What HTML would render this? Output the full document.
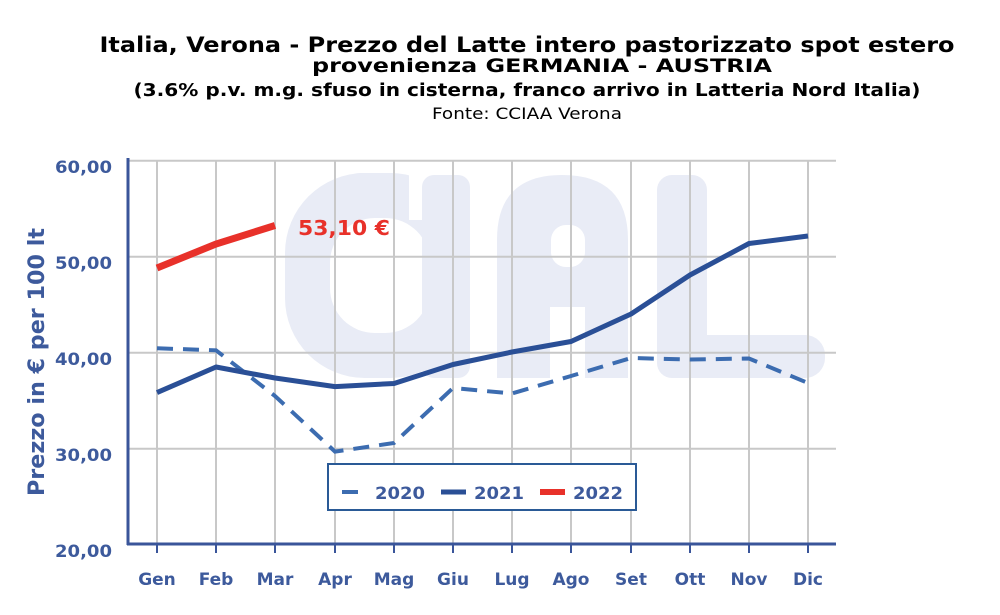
<!DOCTYPE html><html><head><meta charset="utf-8"><style>body{margin:0;background:#fff}</style></head><body>
<svg width="1000" height="610" xmlns="http://www.w3.org/2000/svg" font-family="DejaVu Sans, Liberation Sans, sans-serif">
<text x="527" y="52" text-anchor="middle" font-size="21" font-weight="bold" fill="#000" textLength="855" lengthAdjust="spacingAndGlyphs">Italia, Verona - Prezzo del Latte intero pastorizzato spot estero</text>
<text x="542" y="72" text-anchor="middle" font-size="19" font-weight="bold" fill="#000" textLength="460" lengthAdjust="spacingAndGlyphs">provenienza GERMANIA - AUSTRIA</text>
<text x="527" y="96" text-anchor="middle" font-size="18" font-weight="bold" fill="#000" textLength="787" lengthAdjust="spacingAndGlyphs">(3.6% p.v. m.g. sfuso in cisterna, franco arrivo in Latteria Nord Italia)</text>
<text x="527" y="119" text-anchor="middle" font-size="16" fill="#000" textLength="190" lengthAdjust="spacingAndGlyphs">Fonte: CCIAA Verona</text>
<g fill="#e9ecf6">
<rect x="285" y="173" width="185" height="205" rx="80"/>
<rect x="340" y="173" width="70" height="45" rx="20"/>
</g>
<rect x="409" y="165" width="18" height="55" fill="#fff"/>
<rect x="330" y="218" width="100" height="115" rx="45" fill="#fff"/>
<g fill="#e9ecf6">
<rect x="422" y="175" width="48" height="203" rx="12"/>
<path d="M497,378 V240 Q497,175 562,175 Q628,175 628,240 V378 Z"/>
<rect x="657" y="175" width="50" height="203" rx="15"/>
<rect x="657" y="335" width="168" height="43" rx="20"/>
</g>
<rect x="551" y="225" width="34" height="42" rx="15" fill="#fff"/>
<rect x="550" y="307" width="35" height="75" fill="#fff"/>
<g stroke="#c8c8c8" stroke-width="2">
<line x1="128" y1="160.7" x2="836" y2="160.7"/><line x1="128" y1="256.7" x2="836" y2="256.7"/><line x1="128" y1="352.7" x2="836" y2="352.7"/><line x1="128" y1="448.7" x2="836" y2="448.7"/>
<line x1="157" y1="160" x2="157" y2="543"/><line x1="216" y1="160" x2="216" y2="543"/><line x1="275" y1="160" x2="275" y2="543"/><line x1="335" y1="160" x2="335" y2="543"/><line x1="394" y1="160" x2="394" y2="543"/><line x1="453" y1="160" x2="453" y2="543"/><line x1="512" y1="160" x2="512" y2="543"/><line x1="571" y1="160" x2="571" y2="543"/><line x1="631" y1="160" x2="631" y2="543"/><line x1="690" y1="160" x2="690" y2="543"/><line x1="749" y1="160" x2="749" y2="543"/><line x1="808" y1="160" x2="808" y2="543"/>
</g>
<g stroke="#3a559a" stroke-width="2">
<line x1="157" y1="543" x2="157" y2="553"/><line x1="216" y1="543" x2="216" y2="553"/><line x1="275" y1="543" x2="275" y2="553"/><line x1="335" y1="543" x2="335" y2="553"/><line x1="394" y1="543" x2="394" y2="553"/><line x1="453" y1="543" x2="453" y2="553"/><line x1="512" y1="543" x2="512" y2="553"/><line x1="571" y1="543" x2="571" y2="553"/><line x1="631" y1="543" x2="631" y2="553"/><line x1="690" y1="543" x2="690" y2="553"/><line x1="749" y1="543" x2="749" y2="553"/><line x1="808" y1="543" x2="808" y2="553"/>
</g>
<line x1="128" y1="158" x2="128" y2="545" stroke="#3a559a" stroke-width="3"/>
<line x1="127" y1="544" x2="836" y2="544" stroke="#3a559a" stroke-width="3"/>
<g font-size="17" font-weight="bold" fill="#3d5a9c" text-anchor="end">
<text x="112" y="173" textLength="57" lengthAdjust="spacingAndGlyphs">60,00</text><text x="112" y="269" textLength="57" lengthAdjust="spacingAndGlyphs">50,00</text><text x="112" y="365" textLength="57" lengthAdjust="spacingAndGlyphs">40,00</text><text x="112" y="461" textLength="57" lengthAdjust="spacingAndGlyphs">30,00</text><text x="112" y="557" textLength="57" lengthAdjust="spacingAndGlyphs">20,00</text>
</g>
<g font-size="17" font-weight="bold" fill="#3d5a9c" text-anchor="middle">
<text x="157" y="585">Gen</text><text x="216" y="585">Feb</text><text x="275" y="585">Mar</text><text x="335" y="585">Apr</text><text x="394" y="585">Mag</text><text x="453" y="585">Giu</text><text x="512" y="585">Lug</text><text x="571" y="585">Ago</text><text x="631" y="585">Set</text><text x="690" y="585">Ott</text><text x="749" y="585">Nov</text><text x="808" y="585">Dic</text>
</g>
<text transform="translate(44,362) rotate(-90)" text-anchor="middle" font-size="22" font-weight="bold" fill="#3d5a9c" textLength="268" lengthAdjust="spacingAndGlyphs">Prezzo in € per 100 lt</text>
<polyline fill="none" stroke="#3c6cb0" stroke-width="4" stroke-dasharray="16,10" points="157,348.3 216,350.3 275,396 335,451.6 394,443 453,388 512,393.5 571,376 631,358 690,359.5 749,358.5 808,383"/>
<polyline fill="none" stroke="#2a4f96" stroke-width="5" stroke-linejoin="round" points="157,392.6 216,367 275,378 335,386.6 394,383.5 453,364.5 512,352 571,341.5 631,314 690,275 749,243.5 808,236"/>
<polyline fill="none" stroke="#e8312a" stroke-width="7" points="157,268 216,244 275,225.5"/>
<text x="298" y="235" font-size="20" font-weight="bold" fill="#e8312a" textLength="92" lengthAdjust="spacingAndGlyphs">53,10 €</text>
<rect x="328" y="464" width="308" height="46" fill="#fff" stroke="#2a5a96" stroke-width="2"/>
<line x1="342" y1="492" x2="358" y2="492" stroke="#3c6cb0" stroke-width="4"/>
<text x="375" y="499" font-size="17" font-weight="bold" fill="#3d5a9c" textLength="50" lengthAdjust="spacingAndGlyphs">2020</text>
<line x1="441" y1="492" x2="466" y2="492" stroke="#2a4f96" stroke-width="5"/>
<text x="474" y="499" font-size="17" font-weight="bold" fill="#3d5a9c" textLength="50" lengthAdjust="spacingAndGlyphs">2021</text>
<line x1="540" y1="492" x2="565" y2="492" stroke="#e8312a" stroke-width="6"/>
<text x="573" y="499" font-size="17" font-weight="bold" fill="#3d5a9c" textLength="50" lengthAdjust="spacingAndGlyphs">2022</text>
</svg>
</body></html>
